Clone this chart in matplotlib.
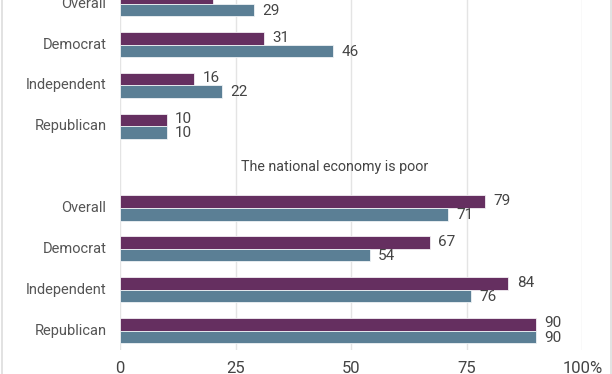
"""Partisan views of the economy: grouped horizontal bars in two stacked panels."""

import matplotlib

matplotlib.use("Agg")
import matplotlib.pyplot as plt
from matplotlib.lines import Line2D

plt.rcParams["font.family"] = ["Roboto", "DejaVu Sans"]

# data
groups = ["Republican", "Independent", "Democrat", "Overall"]
top_purple = [10, 16, 31, 20]   # upper panel (title cropped off)
top_teal = [10, 22, 46, 29]
bottom_title = "The national economy is poor"
bottom_purple = [90, 84, 67, 79]
bottom_teal = [90, 76, 54, 71]
x_ticks = [0, 25, 50, 75, 100]
x_tick_labels = ["0", "25", "50", "75", "100%"]

PURPLE = "#652f60"
TEAL = "#5b7f95"
TEXT = "#444444"
GRID = "#e4e4e4"

W, H = 612, 374
fig = plt.figure(figsize=(W / 100, H / 100), dpi=100)
ax = fig.add_axes([120.3 / W, (H - 350) / H, 462 / W, 350 / H])

bar_h = 0.31
bottom_pos = [0, 1, 2, 3]
title_pos = 4
top_pos = [5, 6, 7, 8]


def draw_panel(positions, purple, teal):
    for p, a, b in zip(positions, purple, teal):
        ax.barh(p + bar_h / 2, a, height=bar_h, color=PURPLE,
                edgecolor="#f2eef2", linewidth=0.6, zorder=3)
        ax.barh(p - bar_h / 2, b, height=bar_h, color=TEAL,
                edgecolor="#eef2f5", linewidth=0.6, zorder=3)
        ax.annotate(str(a), (a, p + bar_h / 2), xytext=(6, 0.5),
                    textcoords="offset points", va="center", ha="left",
                    fontsize=11, color=TEXT)
        ax.annotate(str(b), (b, p - bar_h / 2), xytext=(6, -0.5),
                    textcoords="offset points", va="center", ha="left",
                    fontsize=11, color=TEXT)
        ax.annotate(groups[positions.index(p)], (0, p), xytext=(-10, 0),
                    textcoords="offset points", va="center", ha="right",
                    fontsize=10.5, color="#555555", annotation_clip=False)


draw_panel(bottom_pos, bottom_purple, bottom_teal)
draw_panel(top_pos, top_purple, top_teal)
ax.text(46.4, title_pos, bottom_title, ha="center", va="center",
        fontsize=10.3, color=TEXT)

ax.set_xlim(0, 100)
ax.set_ylim(-0.477, 8.09)
ax.set_xticks(x_ticks)
ax.set_xticklabels(x_tick_labels, fontsize=12, color=TEXT)
ax.tick_params(axis="x", length=0, pad=8)
ax.set_yticks([])
ax.grid(axis="x", color=GRID, linewidth=1, zorder=0)
for s in ax.spines.values():
    s.set_visible(False)

# thin frame lines at the left and right edges
for xf in (1.5 / W, 610.5 / W):
    fig.add_artist(Line2D([xf, xf], [0, 1], color="#dddddd", linewidth=1.2))

fig.savefig("out.png", dpi=100)
